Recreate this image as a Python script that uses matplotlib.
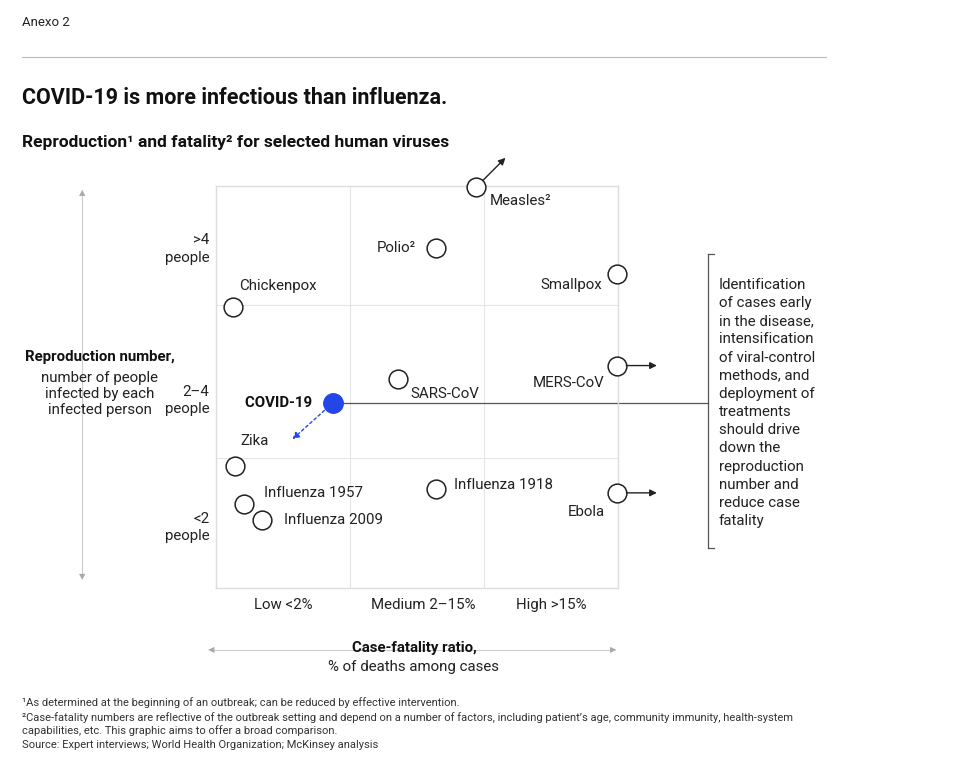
import matplotlib
matplotlib.use("Agg")
import matplotlib.pyplot as plt

plt.rcParams['font.family'] = ['Roboto', 'DejaVu Sans']

W, H = 954, 757
names = ["Measles", "Polio", "Smallpox", "Chickenpox", "MERS-CoV", "SARS-CoV",
         "Zika", "Influenza 1957", "Influenza 2009", "Influenza 1918", "Ebola"]
fatality = [1.94, 1.64, 2.99, 0.13, 2.99, 1.36, 0.14, 0.21, 0.34, 1.64, 2.99]
reproduction = [2.99, 2.54, 2.34, 2.10, 1.66, 1.56, 0.91, 0.63, 0.51, 0.74, 0.71]
covid = (0.87, 1.38)
x_cats = ["Low <2%", "Medium 2–15%", "High >15%"]
x_cat_pos = [0.5, 1.55, 2.5]
y_cats = [">4\npeople", "2–4\npeople", "<2\npeople"]
y_cat_pos = [2.53, 1.4, 0.45]
labels = {  # label offsets in pixels (dx, dy, ha)
    "Measles": (14, 14, "left"), "Polio": (-20, 0, "right"), "Smallpox": (-14, 11, "right"),
    "Chickenpox": (6, -21, "left"), "MERS-CoV": (-12, 17, "right"), "SARS-CoV": (12, 15, "left"),
    "Zika": (6, -25, "left"), "Influenza 1957": (20, -11, "left"), "Influenza 2009": (22, 0, "left"),
    "Influenza 1918": (18, -4, "left"), "Ebola": (-12, 19, "right")}

FS = 10.8
fig = plt.figure(figsize=(W/100, H/100), dpi=100)
def T(px, py, s, **kw):
    fig.text(px/W, 1-py/H, s, **kw)

ax = fig.add_axes([216/W, 1-588/H, 402/W, 402/H])
ax.set_xlim(0, 3); ax.set_ylim(0, 3)
ax.set_xticks([]); ax.set_yticks([])
for s in ax.spines.values():
    s.set_color('#dddddd'); s.set_linewidth(1)
for v in [1.0, 2.0]:
    ax.axvline(v, color='#e6e6e6', lw=0.8, zorder=0)
for v in [0.97, 2.11]:
    ax.axhline(v, color='#e6e6e6', lw=0.8, zorder=0)

ax.plot(fatality, reproduction, 'o', ms=13.5, mfc='white', mec='#222222', mew=1.1,
        clip_on=False, zorder=3)
ax.plot([covid[0]], [covid[1]], 'o', ms=14, color='#2546e6', clip_on=False, zorder=4)

from matplotlib.transforms import offset_copy
for n, x, y in zip(names, fatality, reproduction):
    dx, dy, ha = labels[n]
    txt = n + ("²" if n in ("Measles", "Polio") else "")
    ax.text(x, y, txt, transform=offset_copy(ax.transData, fig=fig, x=dx*0.72, y=-dy*0.72, units='points'),
            ha=ha, va='center', fontsize=FS, color='#222222')
ax.text(covid[0], covid[1], "COVID-19  ", transform=offset_copy(ax.transData, fig=fig, x=-9, y=0, units='points'),
        ha='right', va='center', fontsize=FS, fontweight='bold', color='#111111')

def arr(x, y, dx, dy):
    ax.annotate("", xy=(x + dx, y + dy), xytext=(x, y), annotation_clip=False,
                arrowprops=dict(arrowstyle='-|>', color='#222222', lw=1, mutation_scale=10,
                                shrinkA=7, shrinkB=0))
arr(fatality[0], reproduction[0], 0.22, 0.22)
arr(fatality[4], reproduction[4], 0.3, 0)
arr(fatality[10], reproduction[10], 0.3, 0)
ax.annotate("", xy=(covid[0] - 0.3, covid[1] - 0.27), xytext=covid, annotation_clip=False,
            arrowprops=dict(arrowstyle='-|>', color='#2546e6', lw=1, ls=(0, (2, 2)),
                            mutation_scale=10, shrinkA=8, shrinkB=0))
ax.plot([covid[0], (708-216)/134], [covid[1]]*2, color='#555555', lw=0.9, clip_on=False, zorder=2)

for c, p in zip(x_cats, x_cat_pos):
    ax.text(p, -0.13, c, ha='center', va='center', fontsize=FS, color='#222222')
for c, p in zip(y_cats, y_cat_pos):
    ax.text(-0.05, p, c, ha='right', va='center', fontsize=FS, color='#222222', linespacing=1.3)

fig.add_artist(plt.Line2D([708/W]*2, [1-254/H, 1-548/H], color='#555555', lw=0.9))
for yy in (254, 548):
    fig.add_artist(plt.Line2D([708/W, 714/W], [1-yy/H]*2, color='#555555', lw=0.9))
T(719, 403, "Identification\nof cases early\nin the disease,\nintensification\nof viral-control\nmethods, and\ndeployment of\ntreatments\nshould drive\ndown the\nreproduction\nnumber and\nreduce case\nfatality",
  fontsize=FS, va='center', ha='left', linespacing=1.38, color='#222222')

fig.add_artist(plt.Line2D([82/W]*2, [1-196/H, 1-574/H], color='#cccccc', lw=0.8))
fig.add_artist(plt.Line2D([214/W, 610/W], [1-650/H]*2, color='#cccccc', lw=0.8))
fig.text(82/W, 1-193/H, "▲", fontsize=6, color='#aaaaaa', ha='center', va='center')
fig.text(82/W, 1-577/H, "▼", fontsize=6, color='#aaaaaa', ha='center', va='center')
fig.text(211/W, 1-650/H, "◀", fontsize=6, color='#aaaaaa', ha='center', va='center')
fig.text(613/W, 1-650/H, "▶", fontsize=6, color='#aaaaaa', ha='center', va='center')

T(100, 357, "Reproduction number,", fontsize=FS, fontweight='bold', ha='center', va='center', color='#111111')
T(100, 394, "number of people\ninfected by each\ninfected person", fontsize=FS, ha='center', va='center',
  linespacing=1.2, color='#222222')
T(414, 648, "Case-fatality ratio,", fontsize=FS, fontweight='bold', ha='center', va='center', color='#111111')
T(414, 667, "% of deaths among cases", fontsize=FS, ha='center', va='center', color='#222222')

T(22, 22, "Anexo 2", fontsize=9.5, va='center', color='#222222')
fig.add_artist(plt.Line2D([22/W, 826/W], [1-57/H]*2, color='#bbbbbb', lw=0.8))
T(22, 98, "COVID-19 is more infectious than influenza.", fontsize=15.5, fontweight='bold', va='center', color='#111111')
T(22, 142, "Reproduction¹ and fatality² for selected human viruses", fontsize=12.5, fontweight='bold',
  va='center', color='#111111')
T(22, 703, "¹As determined at the beginning of an outbreak; can be reduced by effective intervention.",
  fontsize=8, va='center', color='#333333')
T(22, 724, "²Case-fatality numbers are reflective of the outbreak setting and depend on a number of factors, including patient’s age, community immunity, health-system\ncapabilities, etc. This graphic aims to offer a broad comparison.",
  fontsize=8, va='center', color='#333333', linespacing=1.15)
T(22, 745, "Source: Expert interviews; World Health Organization; McKinsey analysis",
  fontsize=8, va='center', color='#333333')

fig.savefig("out.png", dpi=100, facecolor='white')
